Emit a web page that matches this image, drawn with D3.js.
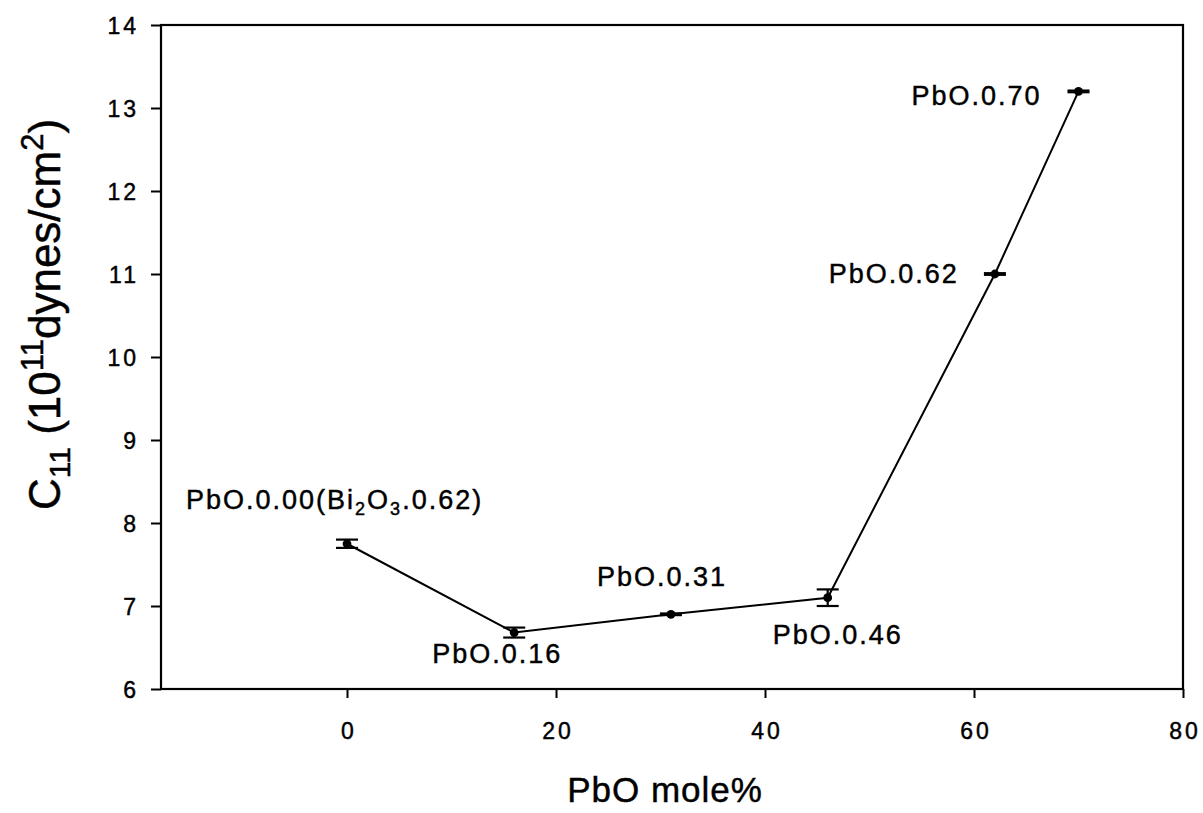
<!DOCTYPE html>
<html>
<head>
<meta charset="utf-8">
<script src="https://cdn.jsdelivr.net/npm/d3@7"></script>
<style>
  html, body { margin: 0; padding: 0; background: #fff; }
  svg text { font-family: "Liberation Sans", Arial, Helvetica, sans-serif; fill: #000; stroke: #000; stroke-width: 0.45px; }
</style>
</head>
<body>
<svg id="chart" width="1203" height="813"></svg>
<script>
// PbO content (mole %) and measured elastic constant C11 (10^11 dynes/cm^2)
const pbo = [0, 16, 31, 46, 62, 70];
const c11 = [7.75, 6.68, 6.90, 7.10, 11.0, 13.2];
const c11Err = [0.05, 0.06, 0.01, 0.10, 0.01, 0.01];
const sampleNames = ["PbO.0.00", "PbO.0.16", "PbO.0.31", "PbO.0.46", "PbO.0.62", "PbO.0.70"];
const xTicks = [0, 20, 40, 60, 80];
const yTicks = [6, 7, 8, 9, 10, 11, 12, 13, 14];

const svg = d3.select("#chart");
const plotLeft = 161, plotRight = 1183, plotTop = 25, plotBottom = 689;

const x = d3.scaleLinear().domain([-17.8, 80]).range([plotLeft, plotRight]);
const y = d3.scaleLinear().domain([6, 14]).range([plotBottom, plotTop]);

// frame
svg.append("rect")
  .attr("x", plotLeft).attr("y", plotTop)
  .attr("width", plotRight - plotLeft).attr("height", plotBottom - plotTop)
  .attr("fill", "none").attr("stroke", "#000").attr("stroke-width", 2.2);

// axes
const xAxis = svg.append("g")
  .attr("transform", `translate(0,${plotBottom})`)
  .call(d3.axisBottom(x).tickValues(xTicks).tickSize(9).tickSizeOuter(0));
xAxis.select(".domain").remove();
xAxis.selectAll(".tick line").attr("stroke", "#000").attr("stroke-width", 2);
xAxis.selectAll(".tick text")
  .attr("font-size", 23).attr("dy", 0).attr("y", 50)
  .style("letter-spacing", "3px").attr("dx", 1.5);

const yAxis = svg.append("g")
  .attr("transform", `translate(${plotLeft},0)`)
  .call(d3.axisLeft(y).tickValues(yTicks).tickSize(10).tickSizeOuter(0));
yAxis.select(".domain").remove();
yAxis.selectAll(".tick line").attr("stroke", "#000").attr("stroke-width", 2);
yAxis.selectAll(".tick text")
  .attr("font-size", 23).attr("x", -22).attr("dy", "0.36em")
  .style("letter-spacing", "3px");

// axis titles
svg.append("text")
  .attr("x", 665).attr("y", 802)
  .attr("text-anchor", "middle")
  .attr("font-size", 35)
  .style("letter-spacing", "1px")
  .text("PbO mole%");

const yTitle = svg.append("text")
  .attr("transform", "translate(60,510) rotate(-90)")
  .attr("text-anchor", "start")
  .attr("font-size", 44);
yTitle.append("tspan").text("C");
yTitle.append("tspan").attr("font-size", 30).attr("dy", 10).text("11");
yTitle.append("tspan").attr("dy", -10).text(" (10");
yTitle.append("tspan").attr("font-size", 31).attr("dy", -17).text("11");
yTitle.append("tspan").attr("dy", 17).text("dynes/cm");
yTitle.append("tspan").attr("font-size", 31).attr("dy", -17).text("2");
yTitle.append("tspan").attr("dy", 17).text(")");

// connecting line
const pts = pbo.map((v, i) => ({ x: v, y: c11[i], e: c11Err[i], name: sampleNames[i] }));
svg.append("path")
  .datum(pts)
  .attr("fill", "none").attr("stroke", "#000").attr("stroke-width", 2)
  .attr("d", d3.line().x(d => x(d.x)).y(d => y(d.y)));

// error bars
const capHalf = 11;
const eb = svg.append("g").attr("stroke", "#000").attr("stroke-width", 2.2);
pts.forEach(d => {
  const cx = x(d.x), y0 = y(d.y - d.e), y1 = y(d.y + d.e);
  eb.append("line").attr("x1", cx).attr("x2", cx).attr("y1", y0).attr("y2", y1);
  eb.append("line").attr("x1", cx - capHalf).attr("x2", cx + capHalf).attr("y1", y0).attr("y2", y0);
  eb.append("line").attr("x1", cx - capHalf).attr("x2", cx + capHalf).attr("y1", y1).attr("y2", y1);
});

// markers
svg.append("g").selectAll("circle")
  .data(pts).join("circle")
  .attr("cx", d => x(d.x)).attr("cy", d => y(d.y))
  .attr("r", 4.4).attr("fill", "#000");

// sample labels, placed relative to each point
const labelOffsets = [
  { dx: -161, dy: -35, anchor: "start" },
  { dx: -82, dy: 30, anchor: "start" },
  { dx: -74, dy: -28, anchor: "start" },
  { dx: -55, dy: 46, anchor: "start" },
  { dx: -36, dy: 9, anchor: "end" },
  { dx: -37, dy: 14, anchor: "end" }
];
const labels = svg.append("g");
pts.forEach((d, i) => {
  const o = labelOffsets[i];
  const t = labels.append("text")
    .attr("x", x(d.x) + o.dx).attr("y", y(d.y) + o.dy)
    .attr("text-anchor", o.anchor)
    .attr("font-size", 27)
    .style("letter-spacing", "2px");
  t.append("tspan").text(d.name);
  if (i === 0) {
    t.append("tspan").text("(Bi");
    t.append("tspan").attr("font-size", 18).attr("dy", 6).text("2");
    t.append("tspan").attr("dy", -6).text("O");
    t.append("tspan").attr("font-size", 18).attr("dy", 6).text("3");
    t.append("tspan").attr("dy", -6).text(".0.62)");
  }
});
</script>
</body>
</html>
